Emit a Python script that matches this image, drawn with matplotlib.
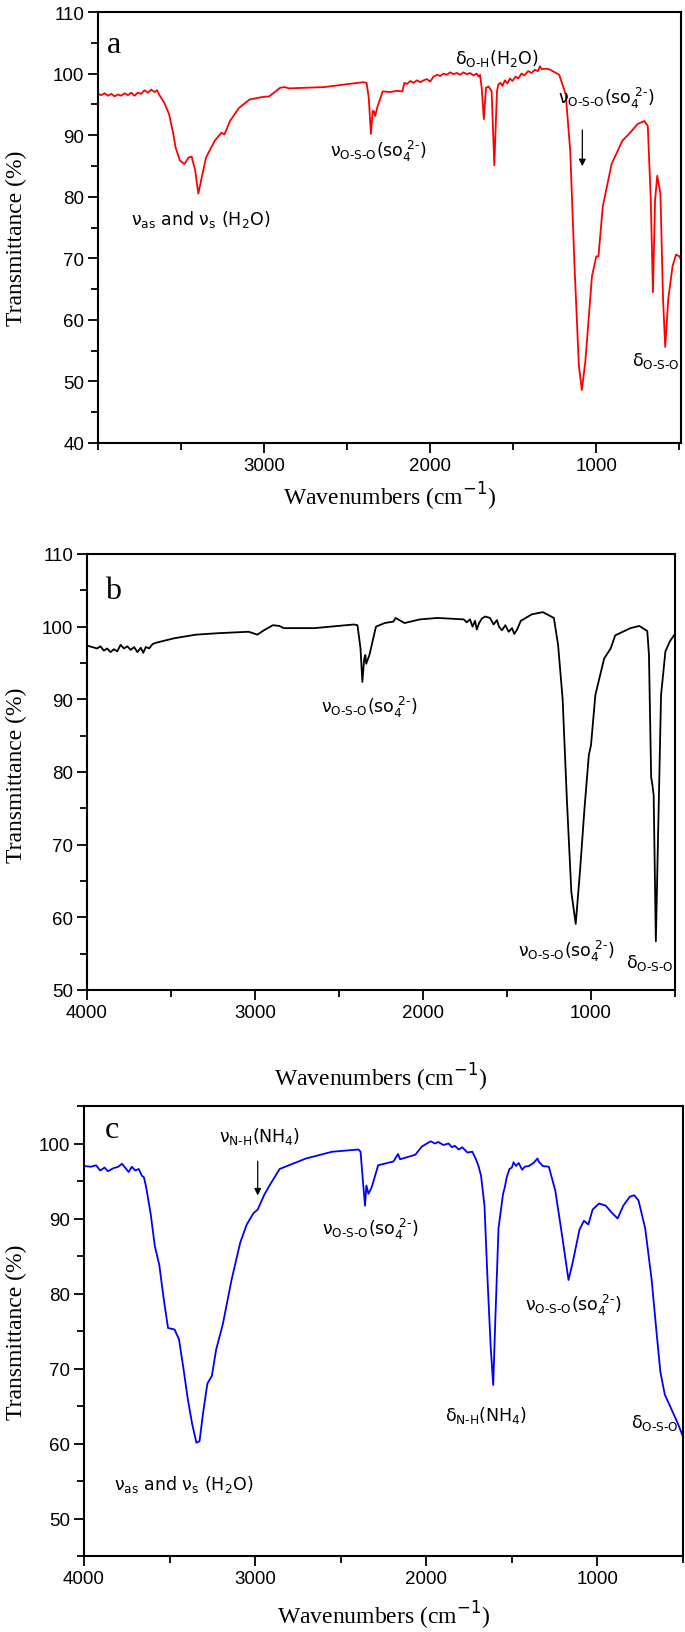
import matplotlib
matplotlib.use("Agg")
import matplotlib.pyplot as plt
from matplotlib.ticker import MultipleLocator, FixedLocator

# ---------------- data ----------------
a_wn = [4000, 3980, 3960, 3940, 3920, 3900, 3880, 3860, 3840, 3820, 3800, 3780, 3760, 3740, 3720,
        3700, 3680, 3660, 3645, 3630, 3600, 3572, 3546, 3533, 3507,
        3480, 3454, 3436, 3415, 3396, 3375, 3349, 3297, 3257, 3239, 3205, 3152, 3087, 3008, 2969,
        2903, 2877, 2850, 2640, 2404, 2383, 2370, 2357, 2346, 2339, 2331, 2320, 2286, 2240, 2200,
        2168, 2160, 2155, 2140, 2120, 2100, 2080, 2060, 2040, 2020, 2000, 1980, 1958, 1940, 1920,
        1900, 1880, 1860, 1840, 1820, 1800, 1780, 1760, 1740, 1720, 1709, 1700,
        1690, 1677, 1664, 1648, 1630, 1614, 1598, 1590, 1577, 1565, 1550, 1535, 1520, 1505, 1486,
        1470, 1450, 1433, 1410, 1390, 1370, 1350, 1340, 1328, 1300,
        1276, 1223, 1184, 1157, 1131, 1105, 1087, 1066, 1026, 1000, 987, 961, 908, 843,
        803, 751, 711, 690, 672, 659, 646, 633, 614, 598, 585, 567, 541, 520, 499, 490]
a_t = [96.7, 96.5, 96.8, 96.4, 96.7, 96.3, 96.6, 96.4, 96.8, 96.5, 96.9, 96.4, 96.9, 96.7, 97.3,
       96.9, 97.4, 97.0, 97.3, 96.5, 95.2, 93.4, 90.1, 88.0, 85.9,
       85.3, 86.4, 86.5, 84.3, 80.5, 83.2, 86.4, 89.1, 90.4, 90.1, 92.3, 94.4, 95.8, 96.2, 96.3,
       97.7, 97.8, 97.6, 97.8, 98.6, 98.5, 96.1, 90.2, 93.9, 93.9, 93.1, 94.4, 97.1, 97.0, 97.2,
       97.1, 98.0, 98.5, 98.3, 98.8, 98.5, 98.9, 98.6, 98.9, 99.1, 98.7, 99.5, 99.8, 99.6, 100.0,
       99.8, 100.2, 99.9, 100.1, 99.8, 100.2, 99.9, 100.1, 99.7, 100.0, 99.5, 99.8,
       97.7, 92.6, 97.7, 97.9, 97.1, 85.1, 97.1, 98.2, 98.5, 98.0, 98.9, 98.4, 99.2, 98.8, 99.5,
       99.2, 100.0, 99.7, 100.4, 100.1, 100.6, 100.4, 101.2, 100.7, 100.8,
       100.6, 99.8, 96.6, 87.5, 68.7, 52.6, 48.6, 53.2, 67.1, 70.3, 70.3, 78.4, 85.3, 89.1,
       90.2, 91.8, 92.3, 91.5, 79.5, 64.5, 79.5, 83.4, 80.5, 63.3, 55.6, 63.3, 68.7, 70.6, 70.3, 69.8]

b_wn = [4000, 3970, 3940, 3920, 3900, 3880, 3860, 3840, 3820, 3800, 3780, 3760, 3740, 3720, 3700,
        3680, 3665, 3650, 3630, 3610, 3587, 3482, 3352, 3221, 3038, 2986, 2947, 2894, 2855,
        2829, 2646, 2411, 2390, 2372, 2361, 2350, 2343, 2338, 2319, 2280, 2228, 2176, 2163, 2110,
        2019, 1914, 1757, 1740, 1720, 1705, 1690, 1680, 1666, 1650, 1630, 1601, 1580, 1560, 1548,
        1530, 1510, 1490, 1470, 1457, 1440, 1418, 1352, 1287, 1221, 1196, 1169, 1143,
        1117, 1091, 1065, 1039, 1013, 1000, 974, 922, 883, 856, 765, 712, 665, 655, 642,
        635, 627, 614, 601, 583, 557, 530, 500]
b_t = [97.4, 97.2, 97.0, 97.3, 96.7, 97.0, 96.5, 96.9, 96.6, 97.5, 97.0, 97.3, 96.8, 97.2, 96.5,
       97.1, 96.4, 97.2, 97.0, 97.6, 97.8, 98.4, 98.9, 99.1, 99.3, 98.9, 99.5, 100.2, 100.1,
       99.8, 99.8, 100.3, 100.2, 97.0, 92.4, 95.6, 96.1, 94.9, 96.1, 100.0, 100.5, 100.7, 101.2, 100.5,
       101.0, 101.2, 101.0, 100.6, 101.0, 100.0, 100.8, 99.6, 100.5, 101.1, 101.4, 101.2, 100.3, 100.9, 100.0,
       99.5, 100.2, 99.3, 99.8, 99.0, 99.6, 100.8, 101.7, 102.0, 101.2, 97.5, 90.1, 75.9,
       63.5, 59.1, 66.5, 74.9, 82.3, 83.7, 90.6, 95.6, 97.0, 98.8, 99.8, 100.1, 99.4, 96.1, 79.3,
       78.3, 76.8, 56.7, 70.9, 90.6, 96.6, 98.0, 99.0]

c_wn = [4000, 3960, 3930, 3905, 3880, 3860, 3829, 3800, 3778, 3760, 3739, 3720, 3701, 3680, 3662,
        3650, 3637, 3611, 3586, 3560, 3535, 3509, 3471, 3445,
        3419, 3394, 3368, 3343, 3325, 3304, 3279, 3253, 3228, 3189, 3138, 3087, 3049, 3010, 2985,
        2946, 2908, 2857, 2703, 2550, 2396, 2384, 2371, 2358, 2350, 2338, 2320, 2281, 2192, 2165,
        2153, 2064, 2026, 1974, 1950, 1930, 1900, 1870, 1850, 1834, 1810, 1790, 1760, 1731, 1710,
        1695, 1680, 1660, 1642, 1624, 1609, 1596, 1578, 1552, 1540, 1530, 1514, 1500, 1490, 1476,
        1460, 1440, 1425, 1400, 1374, 1350, 1343, 1320, 1284, 1246, 1207, 1169, 1143, 1105, 1079,
        1053, 1028, 990, 951, 913,
        882, 849, 811, 785, 760, 721, 683, 657, 632, 606, 568, 529, 500]
c_t = [97.0, 96.9, 97.1, 96.4, 96.8, 96.3, 96.7, 96.9, 97.3, 96.8, 96.2, 96.9, 96.4, 96.6, 95.7,
       95.5, 94.2, 90.7, 86.3, 83.8, 79.4, 75.4, 75.2, 73.9,
       70.0, 66.0, 62.6, 60.1, 60.3, 64.1, 68.0, 69.0, 72.5, 75.9, 81.8, 86.8, 89.2, 90.7, 91.2,
       93.2, 94.7, 96.6, 98.0, 98.9, 99.2, 98.9, 95.2, 91.7, 94.4, 93.3, 94.1, 97.1, 97.6, 98.6,
       97.9, 98.5, 99.6, 100.3, 100.0, 100.2, 99.8, 100.0, 99.5, 99.7, 99.2, 99.5, 98.8, 98.9, 97.9,
       97.0, 95.7, 91.7, 81.8, 73.0, 67.8, 76.9, 88.7, 93.2, 94.3, 95.5, 96.6, 96.8, 97.5, 97.0,
       97.4, 96.5, 96.9, 97.0, 97.4, 98.0, 97.6, 97.0, 96.9, 93.7, 87.8, 81.8, 84.3, 88.5, 89.7,
       89.2, 91.2, 92.0, 91.7, 90.7,
       90.0, 91.7, 92.9, 93.1, 92.4, 88.7, 81.8, 75.4, 69.5, 66.5, 64.6, 62.6, 60.9]

panel_letters = ["a", "b", "c"]
y_label = "Transmittance (%)"
x_label = "Wavenumbers (cm$^{-1}$)"

# ---------------- figure ----------------
W, H = 685, 1633
fig = plt.figure(figsize=(W / 100, H / 100), dpi=100)

def make_ax(l, r, t, b):
    return fig.add_axes([l / W, 1 - b / H, (r - l) / W, (b - t) / H])

tick_font = dict(family="Liberation Sans", size=13.5)
lab_font = dict(family="Liberation Serif", size=17)
ann_font = dict(family="DejaVu Sans", size=12.5)

NU = r"ν$_{\mathrm{O\text{-}S\text{-}O}}$(so$_{4}^{\ 2\text{-}}$)"
DOSO = r"δ$_{\mathrm{O\text{-}S\text{-}O}}$"
VAS = r"ν$_{\mathrm{as}}$ and ν$_{\mathrm{s}}$ (H$_2$O)"

def style(ax, xlim, ylim, xticks, lab_y, ylab_y, panel_rect):
    ax.set_xlim(*xlim)
    ax.set_ylim(*ylim)
    ax.xaxis.set_major_locator(FixedLocator(xticks))
    ax.xaxis.set_minor_locator(MultipleLocator(500))
    ax.yaxis.set_major_locator(MultipleLocator(10))
    ax.yaxis.set_minor_locator(MultipleLocator(5))
    ax.tick_params(which="both", direction="out", top=False, right=False, width=1.3)
    ax.tick_params(which="major", length=7, pad=3)
    ax.tick_params(which="minor", length=5)
    for lab in ax.get_xticklabels() + ax.get_yticklabels():
        lab.set_fontfamily(tick_font["family"])
        lab.set_fontsize(tick_font["size"])
    for s in ax.spines.values():
        s.set_linewidth(1.5)
    l, r, t, b = panel_rect
    fig.text(16 / W, 1 - ylab_y / H, y_label, rotation=90, ha="center", va="center", **lab_font)
    fig.text(((l + r) / 2) / W, 1 - lab_y / H, x_label, ha="center", va="center", **lab_font)

# panel a
ra = (98, 681, 13, 444)
axa = make_ax(*ra)
axa.plot(a_wn, a_t, color="#ff0000", lw=1.3)
style(axa, (4000, 490), (40, 110), [3000, 2000, 1000], 497, 238, ra)
axa.text(3945, 104.8, panel_letters[0], family="Liberation Serif", size=23, ha="left", va="center")
axa.text(3380, 76.5, VAS, ha="center", va="center", **ann_font)
axa.text(2315, 87.5, NU, ha="center", va="center", **ann_font)
axa.text(1600, 102.6, r"δ$_{\mathrm{O\text{-}H}}$(H$_2$O)", ha="center", va="center", **ann_font)
axa.text(940, 96.2, NU, ha="center", va="center", **ann_font)
axa.annotate("", xy=(1084, 84.5), xytext=(1084, 91.3),
             arrowprops=dict(arrowstyle="-|>", color="black", lw=0.9, mutation_scale=10))
axa.text(640, 53.4, DOSO, ha="center", va="center", **ann_font)

# panel b
rb = (87, 675, 555, 991)
axb = make_ax(*rb)
axb.plot(b_wn, b_t, color="black", lw=1.3)
style(axb, (4000, 500), (50, 110), [4000, 3000, 2000, 1000], 1078, 775, rb)
axb.text(3890, 105.0, panel_letters[1], family="Liberation Serif", size=23, ha="left", va="center")
axb.text(2320, 89.0, NU, ha="center", va="center", **ann_font)
axb.text(1145, 55.5, NU, ha="center", va="center", **ann_font)
axb.text(648, 53.8, DOSO, ha="center", va="center", **ann_font)

# panel c
rc = (84, 683, 1107, 1557)
axc = make_ax(*rc)
axc.plot(c_wn, c_t, color="#0000ff", lw=1.3)
style(axc, (4000, 500), (45, 105), [4000, 3000, 2000, 1000], 1616, 1332, rc)
axc.text(3880, 101.8, panel_letters[2], family="Liberation Serif", size=23, ha="left", va="center")
axc.text(2975, 101.1, r"ν$_{\mathrm{N\text{-}H}}$(NH$_4$)", ha="center", va="center", **ann_font)
axc.annotate("", xy=(2985, 92.7), xytext=(2985, 98.0),
             arrowprops=dict(arrowstyle="-|>", color="black", lw=0.9, mutation_scale=10))
axc.text(2330, 88.7, NU, ha="center", va="center", **ann_font)
axc.text(1650, 63.8, r"δ$_{\mathrm{N\text{-}H}}$(NH$_4$)", ha="center", va="center", **ann_font)
axc.text(1143, 78.6, NU, ha="center", va="center", **ann_font)
axc.text(665, 62.8, DOSO, ha="center", va="center", **ann_font)
axc.text(3420, 54.7, VAS, ha="center", va="center", **ann_font)

fig.savefig("out.png", dpi=100)
